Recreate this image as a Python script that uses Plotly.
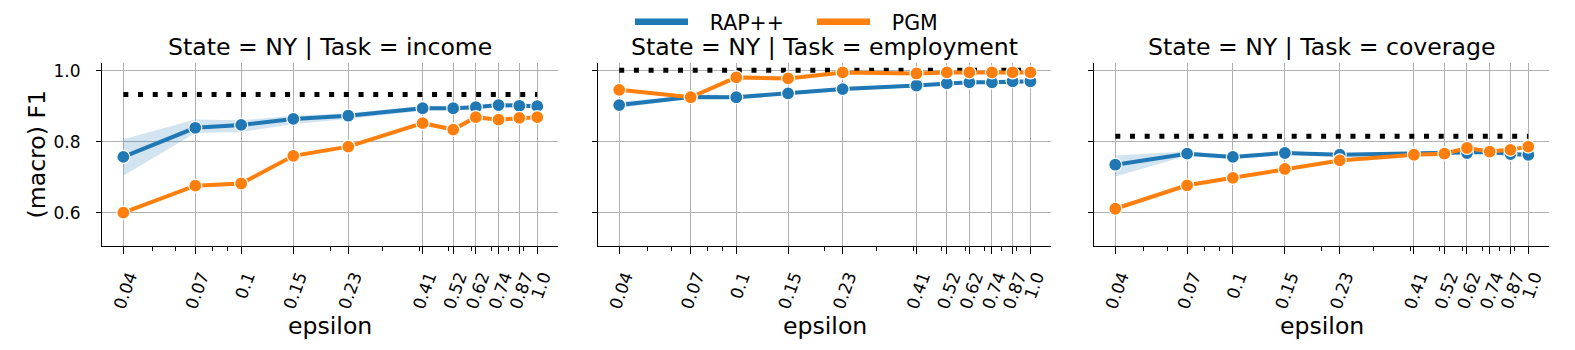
import plotly.graph_objects as go

# epsilon values shared by every panel
epsilon = [0.04, 0.07, 0.1, 0.15, 0.23, 0.41, 0.52, 0.62, 0.74, 0.87, 1.0]
eps_labels = ["0.04", "0.07", "0.1", "0.15", "0.23", "0.41", "0.52", "0.62", "0.74", "0.87", "1.0"]
minor_eps = [0.05, 0.06, 0.08, 0.09, 0.2, 0.3, 0.4, 0.5, 0.6, 0.7, 0.8, 0.9]

tasks = ["income", "employment", "coverage"]

# RAP++ mean and CI band
rap_income = [0.758, 0.840, 0.848, 0.865, 0.874, 0.895, 0.895, 0.898, 0.904, 0.902, 0.901]
rap_income_lo = [0.705, 0.825, 0.828, 0.851, 0.865, 0.888, 0.890, 0.893, 0.899, 0.897, 0.896]
rap_income_hi = [0.808, 0.863, 0.861, 0.874, 0.881, 0.902, 0.900, 0.903, 0.909, 0.907, 0.906]

rap_employment = [0.904, 0.927, 0.926, 0.937, 0.949, 0.959, 0.965, 0.968, 0.968, 0.971, 0.971]
rap_employment_lo = [0.895, 0.923, 0.922, 0.933, 0.945, 0.955, 0.961, 0.964, 0.964, 0.967, 0.967]
rap_employment_hi = [0.913, 0.931, 0.930, 0.941, 0.953, 0.963, 0.969, 0.972, 0.972, 0.975, 0.975]

rap_coverage = [0.736, 0.767, 0.758, 0.769, 0.764, 0.767, 0.769, 0.769, 0.772, 0.766, 0.764]
rap_coverage_lo = [0.703, 0.761, 0.753, 0.764, 0.759, 0.762, 0.764, 0.764, 0.767, 0.761, 0.759]
rap_coverage_hi = [0.762, 0.773, 0.763, 0.774, 0.769, 0.772, 0.774, 0.774, 0.777, 0.771, 0.769]

# PGM
pgm_income = [0.601, 0.677, 0.683, 0.761, 0.787, 0.853, 0.835, 0.870, 0.863, 0.868, 0.870]
pgm_employment = [0.947, 0.926, 0.982, 0.979, 0.996, 0.993, 0.996, 0.996, 0.996, 0.996, 0.996]
pgm_coverage = [0.612, 0.678, 0.699, 0.724, 0.748, 0.764, 0.767, 0.783, 0.773, 0.778, 0.787]

# non-private baseline (dotted black line)
baseline = [0.934, 1.002, 0.816]

rap = [rap_income, rap_employment, rap_coverage]
rap_lo = [rap_income_lo, rap_employment_lo, rap_coverage_lo]
rap_hi = [rap_income_hi, rap_employment_hi, rap_coverage_hi]
pgm = [pgm_income, pgm_employment, pgm_coverage]

BLUE = "#1f77b4"
ORANGE = "#ff7f0e"
FONT = "DejaVu Sans"

# the page body adds an 8px offset, so the figure is drawn 8px smaller
OFF = 8
W, H = 1575 - OFF, 350 - OFF
ml, mr, mt, mb = 102 - OFF, 26 - OFF, 63 - OFF, 104
pw = W - ml - mr
panels_px = [(102, 558), (598, 1051), (1094, 1549)]
domains = [[(a - OFF - ml) / pw, (b - OFF - ml) / pw] for a, b in panels_px]

fig = go.Figure()

for i, task in enumerate(tasks):
    xa = "x" if i == 0 else "x%d" % (i + 1)
    ya = "y" if i == 0 else "y%d" % (i + 1)
    # baseline
    fig.add_trace(go.Scatter(x=[epsilon[0], epsilon[-1]], y=[baseline[i]] * 2, mode="lines",
                             line=dict(color="black", width=5, dash="5px,9.7px"),
                             xaxis=xa, yaxis=ya, showlegend=False, hoverinfo="skip"))
    # CI band
    fig.add_trace(go.Scatter(x=epsilon, y=rap_lo[i], mode="lines", line=dict(width=0),
                             xaxis=xa, yaxis=ya, showlegend=False, hoverinfo="skip"))
    fig.add_trace(go.Scatter(x=epsilon, y=rap_hi[i], mode="lines", line=dict(width=0),
                             fill="tonexty", fillcolor="rgba(31,119,180,0.2)",
                             xaxis=xa, yaxis=ya, showlegend=False, hoverinfo="skip"))
    fig.add_trace(go.Scatter(x=epsilon, y=rap[i], mode="lines+markers", name="RAP++",
                             line=dict(color=BLUE, width=4),
                             marker=dict(size=13, color=BLUE, line=dict(color="white", width=1.2)),
                             xaxis=xa, yaxis=ya, showlegend=False))
    fig.add_trace(go.Scatter(x=epsilon, y=pgm[i], mode="lines+markers", name="PGM",
                             line=dict(color=ORANGE, width=4),
                             marker=dict(size=13, color=ORANGE, line=dict(color="white", width=1.2)),
                             xaxis=xa, yaxis=ya, showlegend=False))

# legend entries
fig.add_trace(go.Scatter(x=[None], y=[None], mode="lines", name="\u2002\u00a0RAP++",
                         line=dict(color=BLUE, width=6.5)))
fig.add_trace(go.Scatter(x=[None], y=[None], mode="lines", name="\u2002\u00a0PGM",
                         line=dict(color=ORANGE, width=6.5)))

axis_common = dict(showline=True, linecolor="black", linewidth=1.2, mirror=False,
                   showgrid=True, gridcolor="#b0b0b0", gridwidth=1, zeroline=False,
                   ticks="outside", tickcolor="black", tickwidth=1.2,
                   tickfont=dict(family=FONT, size=17, color="black"))

annotations = []
for i, task in enumerate(tasks):
    sfx = "" if i == 0 else str(i + 1)
    fig.layout["xaxis" + sfx] = dict(axis_common, type="log", range=[-1.47, 0.07], domain=domains[i],
                                     anchor="y" + sfx, tickvals=epsilon, ticktext=eps_labels,
                                     tickangle=-70, ticklen=7, ticklabelstandoff=6, ticklabelshift=6,
                                     minor=dict(tickvals=minor_eps, ticks="outside", ticklen=4,
                                                tickcolor="black", tickwidth=1, showgrid=False))
    ydict = dict(axis_common, range=[0.507, 1.0225], anchor="x" + sfx, tickvals=[0.6, 0.8, 1.0],
                 ticktext=["0.6", "0.8", "1.0"], ticklen=5, ticklabelstandoff=12)
    if i > 0:
        ydict["matches"] = "y"
        ydict["showticklabels"] = False
    fig.layout["yaxis" + sfx] = ydict
    cx = (domains[i][0] + domains[i][1]) / 2
    annotations.append(dict(text="State = NY | Task = " + task, x=cx, y=1, xref="paper", yref="paper",
                            xanchor="center", yanchor="middle", yshift=16, showarrow=False,
                            font=dict(family=FONT, size=23.6, color="black")))
    annotations.append(dict(text="epsilon", x=cx, y=0, xref="paper", yref="paper",
                            xanchor="center", yanchor="middle", yshift=-80, showarrow=False,
                            font=dict(family=FONT, size=23.6, color="black")))

annotations.append(dict(text="(macro) F1", x=0, y=0.5, xref="paper", yref="paper", textangle=-90,
                        xanchor="center", yanchor="middle", xshift=-66, showarrow=False,
                        font=dict(family=FONT, size=23.6, color="black")))

fig.update_layout(
    width=W, height=H,
    margin=dict(l=ml, r=mr, t=mt, b=mb),
    paper_bgcolor="white", plot_bgcolor="white",
    font=dict(family=FONT, color="black"),
    annotations=annotations,
    showlegend=True,
    legend=dict(orientation="h", xref="container", yref="container", x=(630 - OFF) / W,
                y=1 - (22 - OFF) / H, traceorder="normal",
                xanchor="left", yanchor="middle", itemwidth=53, entrywidth=114,
                font=dict(family=FONT, size=20.5, color="black"), bgcolor="rgba(0,0,0,0)"),
)

fig.write_html("out.html")
